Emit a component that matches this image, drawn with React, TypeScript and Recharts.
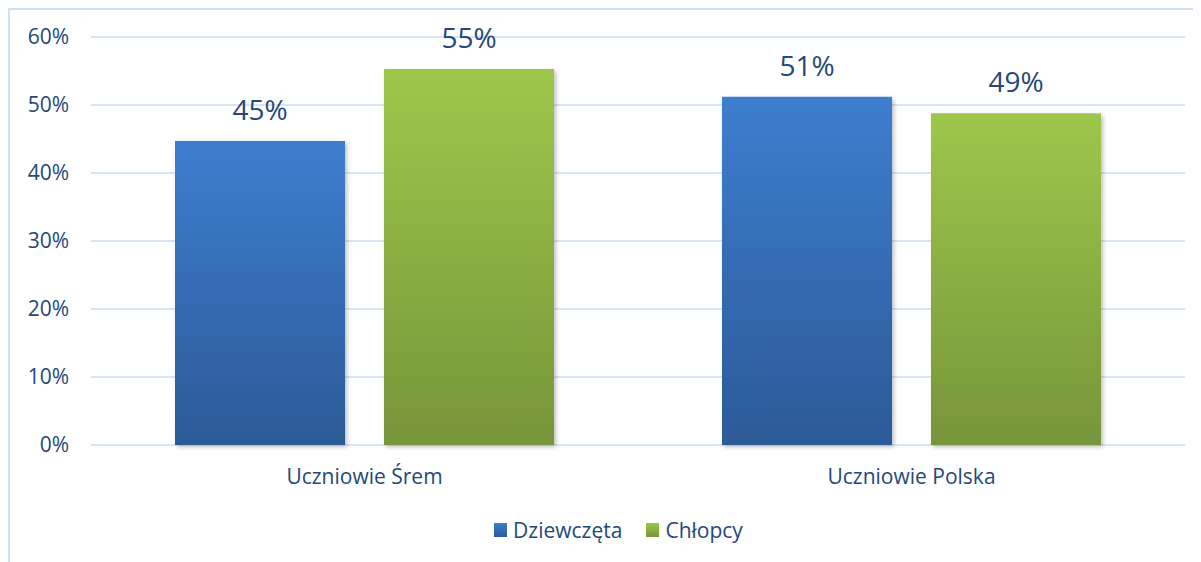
import { BarChart, Bar, XAxis, YAxis, CartesianGrid, Legend, LabelList } from 'recharts'

const categories = ['Uczniowie Śrem', 'Uczniowie Polska']
const girls = [44.7, 51.2]
const boys = [55.3, 48.8]
const yTicks = [0, 10, 20, 30, 40, 50, 60]

const seriesNames = ['Dziewczęta', 'Chłopcy']

const data = categories.map((name, i) => ({ name, girls: girls[i], boys: boys[i] }))

const FONT = '"Open Sans", "Noto Sans", sans-serif'
const TEXT = '#24487a'

function LegendBox() {
  const items = [
    { label: seriesNames[0], top: '#3d7ecf', bottom: '#2c5a97' },
    { label: seriesNames[1], top: '#9dc74b', bottom: '#77953a' },
  ]
  return (
    <div style={{ display: 'flex', justifyContent: 'center', height: 26, alignItems: 'center', paddingLeft: 42, fontFamily: FONT, fontSize: 21, color: TEXT }}>
      {items.map((it, i) => (
        <div key={it.label} style={{ display: 'flex', alignItems: 'center', marginLeft: i ? 24 : 0 }}>
          <span style={{ display: 'inline-block', width: 13, height: 14, marginRight: 6, background: `linear-gradient(${it.top}, ${it.bottom})` }} />
          <span>{it.label}</span>
        </div>
      ))}
    </div>
  )
}

export default function App() {
  return (
    <div style={{ width: 1200, height: 560, border: '2px solid #cfdef0', fontFamily: FONT }}>
      <style>{'html,body{overflow:hidden}'}</style>
      <BarChart
        width={1190}
        height={550}
        data={data}
        margin={{ top: 27, right: 15, left: 0, bottom: 17 }}
        barGap={39}
      >
        <defs>
          <linearGradient id="gBlue" x1="0" y1="0" x2="0" y2="1">
            <stop offset="0%" stopColor="#3d7ecf" />
            <stop offset="100%" stopColor="#2c5a97" />
          </linearGradient>
          <linearGradient id="gGreen" x1="0" y1="0" x2="0" y2="1">
            <stop offset="0%" stopColor="#9dc74b" />
            <stop offset="100%" stopColor="#77953a" />
          </linearGradient>
          <filter id="shadow" x="-10%" y="-10%" width="130%" height="130%">
            <feDropShadow dx="2" dy="2" stdDeviation="2" floodColor="#000" floodOpacity="0.25" />
          </filter>
        </defs>
        <CartesianGrid vertical={false} stroke="#dae5f3" strokeWidth={2} />
        <XAxis
          dataKey="name"
          axisLine={false}
          tickLine={false}
          tickSize={0}
          tickMargin={24}
          height={72}
          tick={{ fill: TEXT, fontSize: 21, fontFamily: FONT }}
        />
        <YAxis
          domain={[0, 60]}
          ticks={yTicks}
          width={81}
          axisLine={false}
          tickLine={false}
          tickSize={0}
          tickMargin={22}
          tickFormatter={(v: number) => `${v}%`}
          tick={{ fill: TEXT, fontSize: 21, fontFamily: FONT }}
        />
        <Legend verticalAlign="bottom" content={<LegendBox />} />
        <Bar dataKey="girls" name={seriesNames[0]} fill="url(#gBlue)" barSize={170} filter="url(#shadow)" isAnimationActive={false}>
          <LabelList dataKey="girls" position="top" offset={21} formatter={(v: number) => `${Math.round(v)}%`} style={{ fill: TEXT, fontSize: 28, fontFamily: FONT }} />
        </Bar>
        <Bar dataKey="boys" name={seriesNames[1]} fill="url(#gGreen)" barSize={170} filter="url(#shadow)" isAnimationActive={false}>
          <LabelList dataKey="boys" position="top" offset={21} formatter={(v: number) => `${Math.round(v)}%`} style={{ fill: TEXT, fontSize: 28, fontFamily: FONT }} />
        </Bar>
      </BarChart>
    </div>
  )
}
